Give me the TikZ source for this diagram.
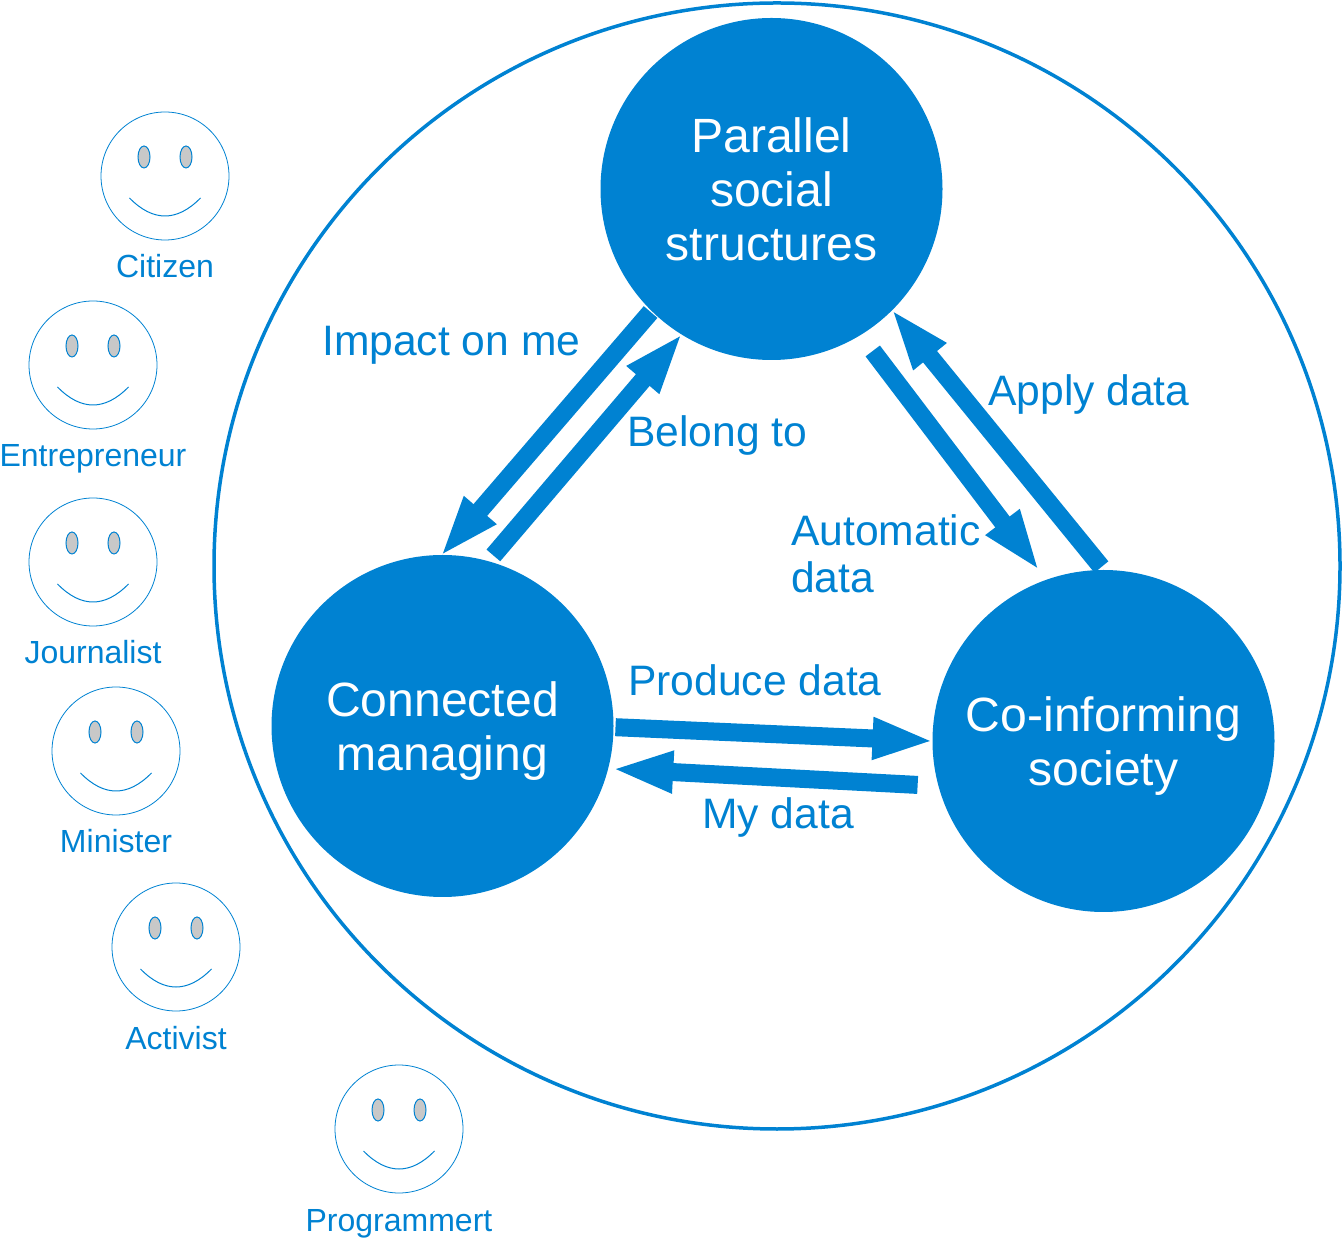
\documentclass[tikz,border=0pt]{standalone}
\usepackage{fontspec}
\setmainfont{Liberation Sans}
\usetikzlibrary{arrows.meta,shapes.geometric}
\definecolor{brandblue}{HTML}{0082D2}
\definecolor{eyegrey}{HTML}{C8C8C8}
\newcommand{\lowerline}{\rule{0pt}{45pt}}
\tikzset{
  hub/.style={circle,fill=brandblue,text=white,minimum size=342pt,inner sep=0pt,align=center,font=\fontsize{48.1}{54}\selectfont},
  flow/.style={draw=brandblue,line width=18pt,shorten >=-4pt,-{Triangle[length=62pt,width=38pt]}},
  lab/.style={text=brandblue,anchor=base west,inner sep=0pt,align=left,font=\fontsize{42.6}{47}\selectfont},
  facecircle/.style={circle,draw=brandblue,line width=0.8pt,minimum size=128pt,inner sep=0pt},
  eyeshape/.style={ellipse,draw=brandblue,fill=eyegrey,line width=1pt,minimum width=12pt,minimum height=22pt,inner sep=0pt},
  facelabel/.style={text=brandblue,anchor=base,inner sep=0pt,font=\fontsize{32}{36}\selectfont},
  pics/smiley/.style={code={
    \node[facecircle] (-face) at (0,0) {};
    \node[eyeshape] (-eyel) at (-21,19) {};
    \node[eyeshape] (-eyer) at (21,19) {};
    \draw[brandblue,line width=1pt] (-35.5,-22) .. controls (-12,-46) and (12,-46) .. (35.5,-22);
    \node[facelabel] (-label) at (0,-102) {#1};
  }}
}
\begin{document}
\begin{tikzpicture}[x=1pt,y=1pt]
\useasboundingbox (0,0) rectangle (1343,1237);
\node[circle,draw=brandblue,line width=3.5pt,minimum size=1126pt,inner sep=0pt] (world) at (777,671) {};
\node[hub] (par) at (771.5,1048) {Parallel\\social\\structures};
\node[hub] (con) at (442.5,511) {\lowerline Connected\\managing};
\node[hub] (coi) at (1103.5,496) {\lowerline Co-informing\\society};
\draw[flow] ([shift={(225.5:172.5)}]par.center) -- ([shift={(90:172)}]con.center);
\draw[flow] ([shift={(73.4:178)}]con.center) -- ([shift={(238.2:172.9)}]par.center);
\draw[flow] ([shift={(-58:191)}]par.center) -- ([shift={(110.9:185)}]coi.center);
\draw[flow] ([shift={(90.7:174)}]coi.center) -- ([shift={(-45.2:173)}]par.center);
\draw[flow] ([shift={(-0.4:173)}]con.center) -- ([shift={(180:173)}]coi.center);
\draw[flow] ([shift={(193.3:191)}]coi.center) -- ([shift={(-14:178)}]con.center);
\node[lab] (l1) at (322,881) {Impact on me};
\node[lab] (l2) at (627,790) {Belong to};
\node[lab] (l3) at (988,831) {Apply data};
\node[lab] (l4) at (791,644) {Automatic\\data};
\node[lab] (l5) at (628,541) {Produce data};
\node[lab] (l6) at (702,408) {My data};
\pic (citizen) at (165,1061) {smiley=Citizen};
\pic (entrepreneur) at (93,872) {smiley=Entrepreneur};
\pic (journalist) at (93,675) {smiley=Journalist};
\pic (minister) at (116,486) {smiley=Minister};
\pic (activist) at (176,290) {smiley=Activist};
\pic (programmert) at (399,108) {smiley=Programmert};
\end{tikzpicture}
\end{document}
